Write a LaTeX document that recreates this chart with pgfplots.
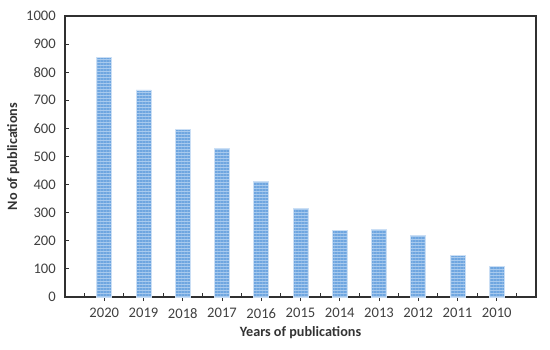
\documentclass[border=0pt]{standalone}
\usepackage{fontspec}
\setmainfont{Carlito}
\usepackage{pgfplots}
\pgfplotsset{compat=1.18}
\usetikzlibrary{patterns.meta}
\definecolor{barbase}{HTML}{A8CAEE}
\definecolor{barline}{HTML}{6FA6E0}
\definecolor{axisgray}{HTML}{303030}
\definecolor{labelgray}{HTML}{404040}
\begin{document}
\fontsize{7.3}{8.5}\selectfont
\begin{tikzpicture}
\begin{axis}[
  name=ax,
  scale only axis, width=235.5pt, height=140.5pt,
  xmin=-1, xmax=11, ymin=0, ymax=1000,
  ybar, bar width=7.5pt,
  axis line style={axisgray, line width=0.55pt},
  tick style={axisgray, line width=0.5pt},
  tick align=inside, major tick length=2pt,
  xtick={-0.5,0.5,...,10.5}, xticklabels={},
  extra x ticks={0,...,10},
  extra x tick labels={2020,2019,2018,2017,2016,2015,2014,2013,2012,2011,2010},
  extra x tick style={tick align=outside},
  ytick={0,100,...,1000},
  xtick pos=bottom, ytick pos=left,
  /pgf/number format/assume math mode=true,
  /pgf/number format/1000 sep={},
  tick label style={font=\fontsize{7.3}{8.5}\selectfont, text=labelgray},
  yticklabel style={xshift=-2pt},
  xticklabel style={yshift=-1pt},
  xlabel={\bfseries Years of publications},
  ylabel={\bfseries No of publications},
  xlabel style={at={(axis description cs:0.5,-0.128)}, anchor=center, text=labelgray!80!black, font=\fontsize{7.1}{8.5}\selectfont},
  ylabel style={at={(axis description cs:-0.11,0.5)}, anchor=center, text=labelgray!80!black, font=\fontsize{7.1}{8.5}\selectfont},
]
\addplot[fill=barbase, draw=barbase!60, line width=0.3pt,
  postaction={pattern={Lines[angle=0,distance=1.5pt,line width=0.55pt]}, pattern color=barline}]
  coordinates {(0,854)(1,737)(2,596)(3,530)(4,411)(5,315)(6,236)(7,240)(8,220)(9,148)(10,110)};
\end{axis}
\pgfresetboundingbox
\path[use as bounding box] ([xshift=-32.5pt,yshift=-26pt]ax.south west) rectangle ([xshift=7pt,yshift=8pt]ax.north east);
\end{tikzpicture}
\end{document}
